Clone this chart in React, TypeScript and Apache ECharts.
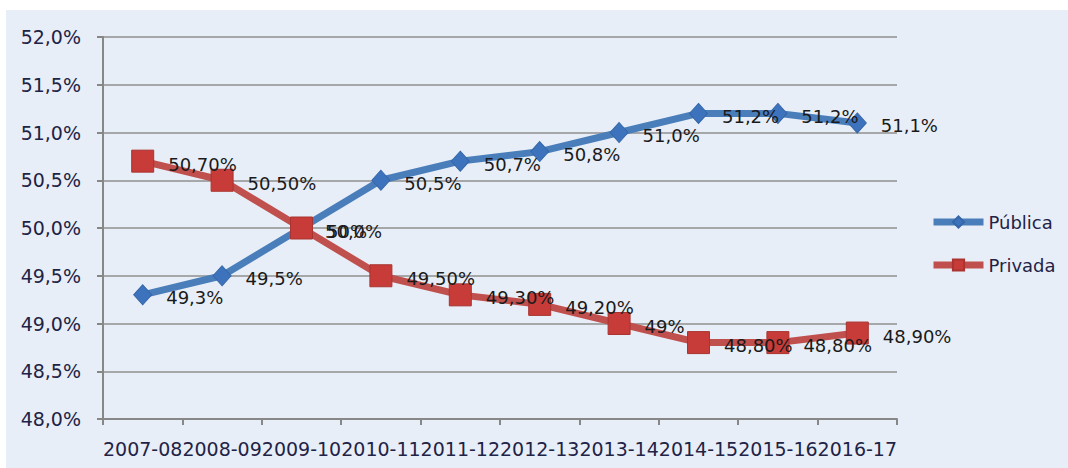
import React, { useEffect, useRef } from "react";
import * as echarts from "echarts";

const categories = ["2007-08", "2008-09", "2009-10", "2010-11", "2011-12", "2012-13", "2013-14", "2014-15", "2015-16", "2016-17"];
const publicaValues = [49.3, 49.5, 50.0, 50.5, 50.7, 50.8, 51.0, 51.2, 51.2, 51.1];
const privadaValues = [50.7, 50.5, 50.0, 49.5, 49.3, 49.2, 49.0, 48.8, 48.8, 48.9];
const publicaLabels = ["49,3%", "49,5%", "50,0%", "50,5%", "50,7%", "50,8%", "51,0%", "51,2%", "51,2%", "51,1%"];
const privadaLabels = ["50,70%", "50,50%", "50%", "49,50%", "49,30%", "49,20%", "49%", "48,80%", "48,80%", "48,90%"];
const yMin = 48;
const yMax = 52;
const yInterval = 0.5;

const FONT = "DejaVu Sans";

export default function App() {
  const ref = useRef<HTMLDivElement>(null);
  useEffect(() => {
    if (!ref.current) return;
    const chart = echarts.init(ref.current, undefined, { renderer: "svg" });
    const labelStyle = (labels: string[]) => ({
      show: true,
      position: "right" as const,
      distance: 14,
      offset: [0, 3],
      fontFamily: FONT,
      fontSize: 18,
      color: "#1a1a1a",
      formatter: (p: any) => labels[p.dataIndex],
    });
    chart.setOption({
      animation: false,
      backgroundColor: "#ffffff",
      graphic: [
        {
          type: "rect",
          z: -10,
          silent: true,
          shape: { x: 6, y: 10, width: 1062, height: 458 },
          style: { fill: "#e8eef7" },
        },
      ],
      grid: { left: 103, right: 171, top: 37, bottom: 49, containLabel: false },
      legend: {
        orient: "vertical",
        left: 930,
        top: 213,
        padding: 0,
        itemWidth: 50,
        itemHeight: 14,
        itemGap: 25,
        textStyle: { fontFamily: FONT, fontSize: 18, color: "#1f2346" },
        data: [
          { name: "Pública", lineStyle: { width: 7, color: "#4a7ebb" } },
          { name: "Privada", lineStyle: { width: 7, color: "#c0504d" } },
        ],
      },
      xAxis: {
        type: "category",
        data: categories,
        boundaryGap: true,
        axisLine: { lineStyle: { color: "#878787", width: 2 } },
        axisTick: { show: true, length: 6, lineStyle: { color: "#878787", width: 2 } },
        axisLabel: { interval: 0, margin: 20, fontFamily: FONT, fontSize: 19, color: "#1f2346" },
        splitLine: { show: false },
      },
      yAxis: {
        type: "value",
        min: yMin,
        max: yMax,
        interval: yInterval,
        axisLine: { show: true, lineStyle: { color: "#878787", width: 2 } },
        axisTick: { show: true, length: 6, lineStyle: { color: "#878787", width: 2 } },
        axisLabel: {
          margin: 22,
          fontFamily: FONT,
          fontSize: 19,
          color: "#1f2346",
          formatter: (v: number) => v.toFixed(1).replace(".", ",") + "%",
        },
        splitLine: { show: true, lineStyle: { color: "#8f8f8f", width: 1.5 } },
      },
      series: [
        {
          name: "Pública",
          type: "line",
          data: publicaValues,
          symbol: "diamond",
          symbolSize: [18, 20],
          lineStyle: { color: "#4a7ebb", width: 7 },
          itemStyle: { color: "#3d73bd", borderColor: "#3566a8", borderWidth: 1 },
          label: labelStyle(publicaLabels),
          z: 3,
        },
        {
          name: "Privada",
          type: "line",
          data: privadaValues,
          symbol: "rect",
          symbolSize: 22,
          lineStyle: { color: "#c0504d", width: 7 },
          itemStyle: { color: "#c73c38", borderColor: "#a93431", borderWidth: 1 },
          label: labelStyle(privadaLabels),
          z: 4,
        },
      ],
    });
    return () => chart.dispose();
  }, []);
  return (
    <div
      ref={ref}
      style={{ position: "absolute", left: 0, top: 0, width: 1068, height: 468 }}
    />
  );
}
